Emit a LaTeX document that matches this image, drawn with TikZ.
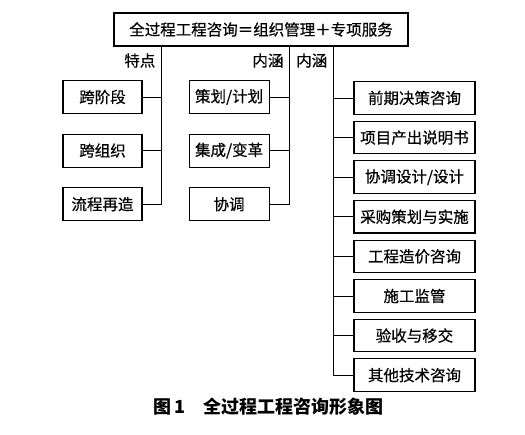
\documentclass[tikz,border=0pt]{standalone}
\usepackage{fontspec}
\setmainfont{Noto Sans CJK SC}
\newfontfamily\boxfont{Noto Sans CJK SC}[FakeBold=0.5]
\usepackage{tikz}
\usetikzlibrary{positioning, calc}

\begin{document}
\begin{tikzpicture}[
    x=1pt, y=-1pt,
    font=\boxfont\fontsize{15.5}{17}\selectfont,
    baseBox/.style={
        rectangle,
        draw=black,
        line width=1.1pt,
        align=center,
        inner sep=2pt,
        minimum height=33pt
    },
    topbox/.style={baseBox, minimum width=294pt},
    trait/.style={baseBox, minimum width=79pt},
    content/.style={baseBox, minimum width=80pt},
    service/.style={baseBox, minimum width=121pt, minimum height=32.5pt},
    lbl/.style={anchor=east, inner sep=0pt, xshift=-6pt},
    link/.style={line width=0.9pt, draw=black}
]
    \useasboundingbox (0,0) rectangle (525,435);

    % --- 1. Top box ---
    \node[topbox] (top) at (261,29.5) {全过程工程咨询＝组织管理＋专项服务};

    % --- 2. Features ---
    \node[trait] (kjd) at (102.5,97) {跨阶段};
    \node[trait, below=19.5pt of kjd] (kzz) {跨组织};
    \node[trait, below=19.5pt of kzz] (lczz) {流程再造};

    % --- 3. Organisation management ---
    \node[content, right=46pt of kjd] (chjh) {策划/计划};
    \node[content, below=19.5pt of chjh] (jcbg) {集成/变革};
    \node[content, below=19.5pt of jcbg] (xt) {协调};

    % --- 4. Special services ---
    \node[service] (qqjc) at (414.5,98) {前期决策咨询};
    \node[service, below=6pt of qqjc] (xmcc) {项目产出说明书};
    \node[service, below=6pt of xmcc] (xtsj) {协调设计/设计};
    \node[service, below=6pt of xtsj] (cgch) {采购策划与实施};
    \node[service, below=6pt of cgch] (gczj) {工程造价咨询};
    \node[service, below=6pt of gczj] (sgjg) {施工监管};
    \node[service, below=6pt of sgjg] (ysyj) {验收与移交};
    \node[service, below=6pt of ysyj] (qtjs) {其他技术咨询};

    % --- Bus lines ---
    \coordinate (busA) at ($(kjd.east)+(19,0)$);
    \coordinate (busB) at ($(chjh.east)+(20,0)$);
    \coordinate (busC) at ($(qqjc.west)+(-20,0)$);

    \node[lbl] (tedian) at ($(top.south -| busA)+(0,14)$) {特点};
    \node[lbl] (neihanA) at ($(top.south -| busB)+(0,14)$) {内涵};
    \node[lbl] (neihanB) at ($(top.south -| busC)+(0,14)$) {内涵};

    % --- Connections ---
    \draw[link] (top.south -| busA) -- (busA |- lczz.east) -- (lczz.east);
    \draw[link] (kjd.east) -- (kjd.east -| busA);
    \draw[link] (kzz.east) -- (kzz.east -| busA);

    \draw[link] (top.south -| busB) -- (busB |- xt.east) -- (xt.east);
    \draw[link] (chjh.east) -- (chjh.east -| busB);
    \draw[link] (jcbg.east) -- (jcbg.east -| busB);

    \draw[link] (top.south -| busC) -- (busC |- qtjs.west) -- (qtjs.west);
    \foreach \s in {qqjc, xmcc, xtsj, cgch, gczj, sgjg, ysyj}
        \draw[link] (\s.west -| busC) -- (\s.west);

    % --- Caption ---
    \node[font=\normalfont\bfseries\fontsize{18}{20}\selectfont] (caption) at (268.5,407) {图\,1\quad 全过程工程咨询形象图};
\end{tikzpicture}
\end{document}
